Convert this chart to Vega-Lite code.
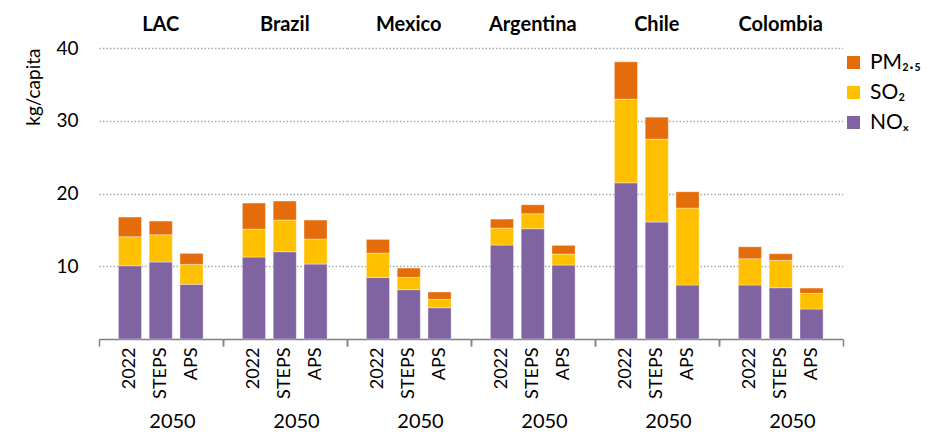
{
  "$schema": "https://vega.github.io/schema/vega-lite/v6.json",
  "padding": {"left": 24, "top": 15, "right": 5, "bottom": 5},
  "background": "white",
  "bounds": "flush",
  "config": {
    "font": "Lato",
    "view": {"stroke": null},
    "axis": {"labelColor": "#000000", "titleColor": "#000000"},
    "facet": {"spacing": 0}
  },
  "data": {"values": [
    {"country": "LAC", "scenario": "2022", "pollutant": "NOₓ", "value": 10.07},
    {"country": "LAC", "scenario": "2022", "pollutant": "SO₂", "value": 3.99},
    {"country": "LAC", "scenario": "2022", "pollutant": "PM₂.₅", "value": 2.70},
    {"country": "LAC", "scenario": "STEPS", "pollutant": "NOₓ", "value": 10.58},
    {"country": "LAC", "scenario": "STEPS", "pollutant": "SO₂", "value": 3.75},
    {"country": "LAC", "scenario": "STEPS", "pollutant": "PM₂.₅", "value": 1.88},
    {"country": "LAC", "scenario": "APS", "pollutant": "NOₓ", "value": 7.51},
    {"country": "LAC", "scenario": "APS", "pollutant": "SO₂", "value": 2.75},
    {"country": "LAC", "scenario": "APS", "pollutant": "PM₂.₅", "value": 1.51},
    {"country": "Brazil", "scenario": "2022", "pollutant": "NOₓ", "value": 11.26},
    {"country": "Brazil", "scenario": "2022", "pollutant": "SO₂", "value": 3.85},
    {"country": "Brazil", "scenario": "2022", "pollutant": "PM₂.₅", "value": 3.57},
    {"country": "Brazil", "scenario": "STEPS", "pollutant": "NOₓ", "value": 12.0},
    {"country": "Brazil", "scenario": "STEPS", "pollutant": "SO₂", "value": 4.35},
    {"country": "Brazil", "scenario": "STEPS", "pollutant": "PM₂.₅", "value": 2.61},
    {"country": "Brazil", "scenario": "APS", "pollutant": "NOₓ", "value": 10.30},
    {"country": "Brazil", "scenario": "APS", "pollutant": "SO₂", "value": 3.44},
    {"country": "Brazil", "scenario": "APS", "pollutant": "PM₂.₅", "value": 2.61},
    {"country": "Mexico", "scenario": "2022", "pollutant": "NOₓ", "value": 8.47},
    {"country": "Mexico", "scenario": "2022", "pollutant": "SO₂", "value": 3.34},
    {"country": "Mexico", "scenario": "2022", "pollutant": "PM₂.₅", "value": 1.88},
    {"country": "Mexico", "scenario": "STEPS", "pollutant": "NOₓ", "value": 6.78},
    {"country": "Mexico", "scenario": "STEPS", "pollutant": "SO₂", "value": 1.69},
    {"country": "Mexico", "scenario": "STEPS", "pollutant": "PM₂.₅", "value": 1.28},
    {"country": "Mexico", "scenario": "APS", "pollutant": "NOₓ", "value": 4.30},
    {"country": "Mexico", "scenario": "APS", "pollutant": "SO₂", "value": 1.15},
    {"country": "Mexico", "scenario": "APS", "pollutant": "PM₂.₅", "value": 1.01},
    {"country": "Argentina", "scenario": "2022", "pollutant": "NOₓ", "value": 12.91},
    {"country": "Argentina", "scenario": "2022", "pollutant": "SO₂", "value": 2.34},
    {"country": "Argentina", "scenario": "2022", "pollutant": "PM₂.₅", "value": 1.23},
    {"country": "Argentina", "scenario": "STEPS", "pollutant": "NOₓ", "value": 15.16},
    {"country": "Argentina", "scenario": "STEPS", "pollutant": "SO₂", "value": 2.06},
    {"country": "Argentina", "scenario": "STEPS", "pollutant": "PM₂.₅", "value": 1.23},
    {"country": "Argentina", "scenario": "APS", "pollutant": "NOₓ", "value": 10.16},
    {"country": "Argentina", "scenario": "APS", "pollutant": "SO₂", "value": 1.52},
    {"country": "Argentina", "scenario": "APS", "pollutant": "PM₂.₅", "value": 1.19},
    {"country": "Chile", "scenario": "2022", "pollutant": "NOₓ", "value": 21.47},
    {"country": "Chile", "scenario": "2022", "pollutant": "SO₂", "value": 11.50},
    {"country": "Chile", "scenario": "2022", "pollutant": "PM₂.₅", "value": 5.13},
    {"country": "Chile", "scenario": "STEPS", "pollutant": "NOₓ", "value": 16.07},
    {"country": "Chile", "scenario": "STEPS", "pollutant": "SO₂", "value": 11.40},
    {"country": "Chile", "scenario": "STEPS", "pollutant": "PM₂.₅", "value": 3.02},
    {"country": "Chile", "scenario": "APS", "pollutant": "NOₓ", "value": 7.42},
    {"country": "Chile", "scenario": "APS", "pollutant": "SO₂", "value": 10.58},
    {"country": "Chile", "scenario": "APS", "pollutant": "PM₂.₅", "value": 2.24},
    {"country": "Colombia", "scenario": "2022", "pollutant": "NOₓ", "value": 7.42},
    {"country": "Colombia", "scenario": "2022", "pollutant": "SO₂", "value": 3.61},
    {"country": "Colombia", "scenario": "2022", "pollutant": "PM₂.₅", "value": 1.65},
    {"country": "Colombia", "scenario": "STEPS", "pollutant": "NOₓ", "value": 7.05},
    {"country": "Colombia", "scenario": "STEPS", "pollutant": "SO₂", "value": 3.76},
    {"country": "Colombia", "scenario": "STEPS", "pollutant": "PM₂.₅", "value": 0.91},
    {"country": "Colombia", "scenario": "APS", "pollutant": "NOₓ", "value": 4.12},
    {"country": "Colombia", "scenario": "APS", "pollutant": "SO₂", "value": 2.15},
    {"country": "Colombia", "scenario": "APS", "pollutant": "PM₂.₅", "value": 0.73}
  ]},
  "transform": [
    {"calculate": "indexof(['NOₓ', 'SO₂', 'PM₂.₅'], datum.pollutant)", "as": "stackOrder"}
  ],
  "facet": {
    "column": {
      "field": "country",
      "type": "nominal",
      "sort": ["LAC", "Brazil", "Mexico", "Argentina", "Chile", "Colombia"],
      "header": {
        "title": null,
        "labelFontSize": 20,
        "labelFontWeight": "bold",
        "labelColor": "#000000",
        "labelPadding": 13
      }
    }
  },
  "spec": {
    "width": 123.5,
    "height": 291,
    "layer": [
      {
        "mark": {"type": "bar", "stroke": "#ffffff", "strokeWidth": 0.6, "strokeOpacity": 0.6},
        "encoding": {
          "x": {
            "field": "scenario",
            "type": "nominal",
            "sort": ["2022", "STEPS", "APS"],
            "scale": {"paddingInner": 0.25, "paddingOuter": 0.63},
            "axis": {
              "orient": "bottom",
              "title": "2050",
              "titleFontSize": 20,
              "titleFontWeight": "normal",
              "titleX": 73,
              "titleY": 72,
              "titleBaseline": "top",
              "titleAlign": "center",
              "labelAngle": -90,
              "labelFontSize": 18,
              "labelPadding": 8,
              "domain": false,
              "ticks": false,
              "grid": false
            }
          },
          "y": {
            "field": "value",
            "type": "quantitative",
            "stack": "zero",
            "scale": {"domain": [0, 40], "nice": false},
            "axis": {
              "title": "kg/capita",
              "titleFontSize": 19,
              "titleFontWeight": "normal",
              "titleAnchor": "end",
              "titlePadding": 12,
              "values": [10, 20, 30, 40],
              "labelFontSize": 19,
              "labelPadding": 21,
              "ticks": false,
              "domain": false,
              "grid": true,
              "gridColor": "#a6a6a6",
              "gridDash": [1.5, 2],
              "gridWidth": 1.5
            }
          },
          "color": {
            "field": "pollutant",
            "type": "nominal",
            "scale": {
              "domain": ["NOₓ", "SO₂", "PM₂.₅"],
              "range": ["#8064a2", "#ffc000", "#e46c0a"]
            },
            "legend": {
              "title": null,
              "values": ["PM₂.₅", "SO₂", "NOₓ"],
              "symbolType": "square",
              "symbolSize": 169,
              "symbolStrokeWidth": 0,
              "labelFontSize": 21,
              "labelColor": "#000000",
              "labelOffset": 6,
              "rowPadding": 8,
              "offset": -5,
              "padding": 4
            }
          },
          "order": {"field": "stackOrder", "type": "quantitative", "sort": "ascending"}
        }
      },
      {
        "mark": {"type": "bar", "opacity": 0},
        "encoding": {
          "x": {
            "field": "country",
            "type": "nominal",
            "scale": {"paddingInner": 0, "paddingOuter": 0},
            "axis": {
              "orient": "bottom",
              "title": null,
              "labels": false,
              "grid": false,
              "domain": true,
              "domainColor": "#808080",
              "domainWidth": 1.5,
              "ticks": true,
              "tickBand": "extent",
              "tickSize": 7,
              "tickColor": "#808080",
              "tickWidth": 1.5
            }
          }
        }
      }
    ],
    "resolve": {"scale": {"x": "independent"}}
  },
  "resolve": {"scale": {"x": "independent"}}
}
